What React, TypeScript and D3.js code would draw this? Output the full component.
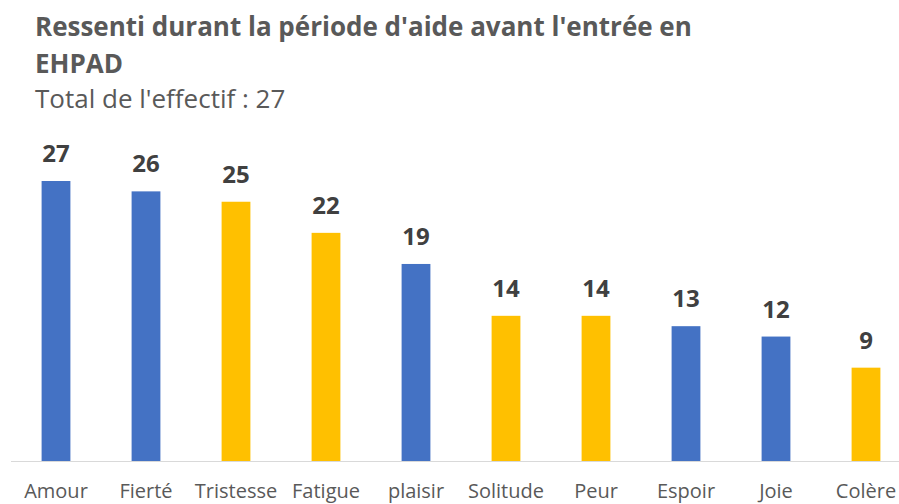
import * as d3 from "d3";

const categories = ["Amour", "Fierté", "Tristesse", "Fatigue", "plaisir", "Solitude", "Peur", "Espoir", "Joie", "Colère"];
const values = [27, 26, 25, 22, 19, 14, 14, 13, 12, 9];
const colorKeys = ["b", "b", "y", "y", "b", "y", "y", "b", "b", "y"];

const titleLines = ["Ressenti durant la période d'aide avant l'entrée en", "EHPAD"];
const subtitle = "Total de l'effectif : 27";

const W = 899;
const H = 504;
const font = "'Open Sans', sans-serif";

export default function App() {
  const baseline = 461;
  const x = d3.scaleBand().domain(categories).range([11, 911]).paddingInner(0.68).paddingOuter(0.34);
  const y = d3.scaleLinear().domain([0, 27]).range([baseline, 181]);
  const colors = { b: "#4472C4", y: "#FFC000" };

  return (
    <svg width={W} height={H} style={{ position: "absolute", left: 0, top: 0, background: "#fff" }}>
      <g fontFamily={font}>
        {titleLines.map((t, i) => (
          <text key={t} x={35} y={36 + i * 37} fontSize={26} fontWeight="bold" fill="#595959">
            {t}
          </text>
        ))}
        <text x={35} y={108} fontSize={26} fill="#595959">
          {subtitle}
        </text>
        {categories.map((c, i) => {
          const cx = x(c)! + x.bandwidth() / 2;
          return (
            <g key={c}>
              <rect x={x(c)} y={y(values[i])} width={x.bandwidth()} height={baseline - y(values[i])} fill={colors[colorKeys[i]]} />
              <text x={cx} y={y(values[i]) - 19} textAnchor="middle" fontSize={24} fontWeight="bold" fill="#404040">
                {values[i]}
              </text>
              <text x={cx} y={498} textAnchor="middle" fontSize={20} fill="#595959">
                {c}
              </text>
            </g>
          );
        })}
        <line x1={11} x2={W} y1={baseline + 0.5} y2={baseline + 0.5} stroke="#d9d9d9" strokeWidth={1} />
      </g>
    </svg>
  );
}
